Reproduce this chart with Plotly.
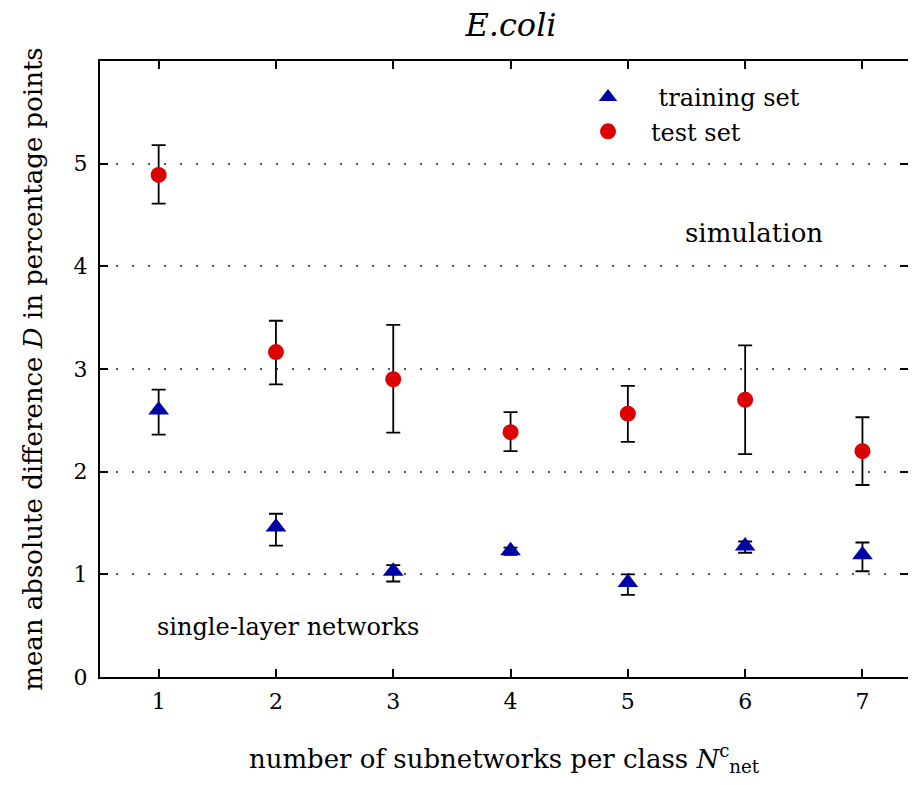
import plotly.graph_objects as go

# data
subnetworks = [1, 2, 3, 4, 5, 6, 7]
train_mean = [2.60, 1.46, 1.03, 1.23, 0.92, 1.275, 1.19]
train_upper = [2.80, 1.59, 1.09, 1.26, 1.00, 1.32, 1.31]
train_lower = [2.36, 1.28, 0.93, 1.19, 0.80, 1.21, 1.03]
test_mean = [4.89, 3.165, 2.90, 2.385, 2.565, 2.70, 2.20]
test_upper = [5.18, 3.47, 3.43, 2.58, 2.835, 3.23, 2.53]
test_lower = [4.61, 2.85, 2.38, 2.20, 2.29, 2.17, 1.87]
x_ticks = [1, 2, 3, 4, 5, 6, 7]
y_ticks = [0, 1, 2, 3, 4, 5]

FONT = "DejaVu Serif"
BLUE = "#0000a8"
RED = "#dd0000"
NB = "\u00a0"

W, H = 900, 769
L, R, T, B = 92, 0, 53, 100
X_MAX = 0.5 + (W - L - R) / 117.3

def err(mean, up, lo):
    return dict(type="data", symmetric=False,
                array=[u - m for u, m in zip(up, mean)],
                arrayminus=[m - l for m, l in zip(mean, lo)],
                color="black", thickness=1.8, width=7)

def px(xpage):
    return (xpage - 8 - L) / (W - L - R)

def py(ypage):
    return (H - B - (ypage - 8)) / (H - T - B)

fig = go.Figure()
fig.add_trace(go.Scatter(
    x=subnetworks, y=train_mean, mode="markers",
    name=NB * 4 + "training set",
    marker=dict(symbol="triangle-up", size=18, color=BLUE),
    error_y=err(train_mean, train_upper, train_lower)))
fig.add_trace(go.Scatter(
    x=subnetworks, y=test_mean, mode="markers",
    name=NB * 3 + "test set",
    marker=dict(symbol="circle", size=16, color=RED),
    error_y=err(test_mean, test_upper, test_lower)))

fig.add_annotation(text="simulation", x=px(754), y=py(233), xref="paper", yref="paper",
                   xanchor="center", yanchor="middle",
                   showarrow=False, font=dict(family=FONT, size=26, color="black"))
fig.add_annotation(text="single-layer networks", x=px(288), y=py(627), xref="paper", yref="paper",
                   xanchor="center", yanchor="middle",
                   showarrow=False, font=dict(family=FONT, size=24, color="black"))

fig.update_layout(
    width=W, height=H,
    margin=dict(l=L, r=R, t=T, b=B),
    paper_bgcolor="white", plot_bgcolor="white",
    font=dict(family=FONT, size=22, color="black"),
    title=dict(text="<i>E.coli</i>", x=(511 - 8) / W, xanchor="center", y=1 - 17 / H,
               yanchor="middle", font=dict(family=FONT, size=32)),
    legend=dict(x=px(588), y=py(75), xanchor="left", yanchor="top",
                bgcolor="rgba(0,0,0,0)", font=dict(family=FONT, size=24),
                tracegroupgap=0, itemwidth=30),
    showlegend=True,
)
fig.update_xaxes(
    range=[0.5, X_MAX], tickvals=x_ticks, ticks="inside", ticklen=8, tickwidth=2,
    tickcolor="black", showline=True, linecolor="black", linewidth=2, mirror="ticks",
    showgrid=False, zeroline=False, tickfont=dict(size=22), ticklabelstandoff=4,
    automargin=False,
    title=dict(text="number of subnetworks per class <i>N</i><sup>c</sup><sub>net</sub>",
               font=dict(size=26), standoff=40),
)
fig.update_yaxes(
    range=[0, 6], tickvals=y_ticks, ticks="inside", ticklen=8, tickwidth=2,
    tickcolor="black", showline=True, linecolor="black", linewidth=2, mirror="ticks",
    showgrid=True, gridcolor="#555555", gridwidth=1.5, griddash="2px,14px",
    zeroline=False, tickfont=dict(size=22), ticklabelstandoff=6, automargin=False,
    title=dict(text="mean absolute difference <i>D</i> in percentage points",
               font=dict(size=26), standoff=23),
)
fig.write_html("out.html")
